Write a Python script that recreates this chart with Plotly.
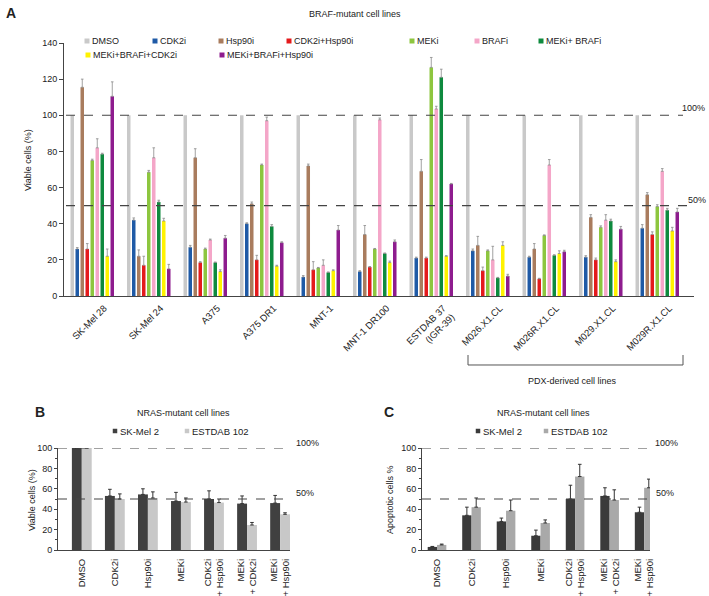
import plotly.graph_objects as go

W, H = 709, 596
FONT = "Liberation Sans, Arial, sans-serif"
TXT = "#222222"

# ---------------- Panel A data ----------------
cell_lines = ["SK-Mel 28", "SK-Mel 24", "A375", "A375 DR1", "MNT-1", "MNT-1 DR100",
              "ESTDAB 37<br>(IGR-39)", "M026.X1.CL", "M026R.X1.CL", "M029.X1.CL", "M029R.X1.CL"]
treatments = ["DMSO", "CDK2i", "Hsp90i", "CDK2i+Hsp90i", "MEKi", "BRAFi",
              "MEKi+ BRAFi", "MEKi+BRAFi+CDK2i", "MEKi+BRAFi+Hsp90i"]
colors_a = ["#c9c9c9", "#1f5aa6", "#a97c5e", "#e41a1c", "#8dc63f", "#f4a6c8",
            "#0e8a3e", "#fff200", "#8e1c8e"]

dmso = [100, 100, 100, 100, 100, 100, 100, 100, 100, 100, 100]
cdk2i = [26, 42, 27, 40, 10.5, 13.5, 21, 25, 21.5, 21.5, 37.5]
cdk2i_err = [0.8, 1.2, 1, 0.5, 0.8, 0.5, 0.5, 1, 0.5, 0.8, 2]
hsp90i = [115.5, 22, 76.5, 51, 72, 34, 69, 28, 26, 43.5, 56]
hsp90i_err = [4.5, 3.5, 5, 1, 1, 5, 6.5, 5, 3, 1.5, 1.2]
cdk2i_hsp = [26, 17, 18.5, 20, 14.5, 16, 21, 14, 9.5, 20, 34]
cdk2i_hsp_err = [3, 5, 0.5, 2.5, 4.5, 0.3, 0.5, 2, 0.3, 1, 1.5]
meki = [75, 68.5, 26, 72.5, 15.5, 26, 126.5, 25, 33.5, 38, 49.5]
meki_err = [0.7, 1, 0.5, 0.5, 0.3, 0.3, 5.5, 0.5, 0.3, 0.8, 1]
brafi = [82, 76.5, 31, 97, 17, 97.5, 103.5, 20, 72.5, 42, 69]
brafi_err = [5, 5.5, 0.5, 2, 3, 1, 1.5, 7.5, 3, 3, 1.5]
meki_brafi = [78.5, 52, 18.5, 38.5, 13, 23.5, 121, 10, 22.5, 41.5, 47.5]
meki_brafi_err = [0.5, 1, 0.3, 1, 0.3, 0.3, 4.5, 0.3, 0.3, 1, 1]
mbc = [22, 41.5, 13.5, 16.5, 14, 18.5, 22, 28, 23.5, 19, 36]
mbc_err = [4, 1.5, 1, 0.5, 0.5, 0.8, 0.3, 2, 1.5, 1, 2]
mbh = [110.5, 15, 32, 29.5, 36.5, 30, 62, 11, 24.5, 37, 46.5]
mbh_err = [8, 2.5, 1.5, 0.5, 2.5, 1, 0.3, 1, 0.8, 1.5, 2]

values_a = [dmso, cdk2i, hsp90i, cdk2i_hsp, meki, brafi, meki_brafi, mbc, mbh]
errors_a = [None, cdk2i_err, hsp90i_err, cdk2i_hsp_err, meki_err, brafi_err,
            meki_brafi_err, mbc_err, mbh_err]

# ---------------- Panels B / C data ----------------
nras_treat = ["DMSO", "CDK2i", "Hsp90i", "MEKi", "CDK2i<br>+ Hsp90i",
              "MEKi<br>+ CDK2i", "MEKi<br>+ Hsp90i"]
nras_lines = ["SK-Mel 2", "ESTDAB 102"]
b_skmel2 = [100, 53, 54.5, 48, 50, 45.5, 46]
b_skmel2_err = [0, 6.5, 5.5, 8.5, 8, 7.5, 7.5]
b_estdab = [100, 50, 51, 47, 46.5, 24.5, 35]
b_estdab_err = [0, 5, 6, 4, 3.5, 2.5, 1.5]
c_skmel2 = [3, 34, 28, 14, 50, 53, 37]
c_skmel2_err = [0.5, 8, 3.3, 5.5, 13.5, 8, 5]
c_estdab = [5, 42, 38.5, 26.5, 72, 49, 61]
c_estdab_err = [0.8, 9, 10.5, 3, 12, 10, 8.5]


def px(x):
    return x / W


def py(y):
    return 1 - y / H


fig = go.Figure()

# Panel A bars
spacing, bw = 0.0885, 0.062
for i, (name, vals, err, col) in enumerate(zip(treatments, values_a, errors_a, colors_a)):
    eb = dict(visible=False)
    if err is not None:
        eb = dict(type="data", symmetric=False, array=err, arrayminus=[0] * len(err),
                  color="#8a8a8a", thickness=0.8, width=1.3)
    fig.add_trace(go.Bar(x=cell_lines, y=vals, name=name, marker_color=col,
                         marker_line_width=0, width=bw, offset=(i - 4) * spacing - bw / 2,
                         error_y=eb, showlegend=False, xaxis="x", yaxis="y"))

# Panel B bars
for vals, err, col, off in [(b_skmel2, b_skmel2_err, "#404040", -0.30),
                            (b_estdab, b_estdab_err, "#c8c8c8", 0.0)]:
    fig.add_trace(go.Bar(x=nras_treat, y=vals, marker_color=col, marker_line_width=0,
                         width=0.30, offset=off, showlegend=False,
                         error_y=dict(type="data", symmetric=False, array=err,
                                      arrayminus=[0] * len(err), color="#333333",
                                      thickness=1, width=1.8),
                         xaxis="x2", yaxis="y2"))

# Panel C bars
for vals, err, col, off in [(c_skmel2, c_skmel2_err, "#3a3a3a", -0.27),
                            (c_estdab, c_estdab_err, "#a9a9a9", 0.0)]:
    fig.add_trace(go.Bar(x=nras_treat, y=vals, marker_color=col, marker_line_width=0,
                         width=0.27, offset=off, showlegend=False,
                         error_y=dict(type="data", symmetric=False, array=err,
                                      arrayminus=[0] * len(err), color="#333333",
                                      thickness=1, width=1.8),
                         xaxis="x3", yaxis="y3"))

axis_common = dict(showgrid=False, zeroline=False, showline=True, linecolor="#444444",
                   linewidth=1, automargin=False,
                   tickfont=dict(family=FONT, size=9, color=TXT))

fig.update_layout(
    width=W, height=H, autosize=False,
    margin=dict(l=0, r=0, t=0, b=0),
    paper_bgcolor="white", plot_bgcolor="white",
    barmode="overlay",
    font=dict(family=FONT, size=9, color=TXT),
    xaxis=dict(axis_common, domain=[px(64), px(694)], range=[-0.5, 10.65],
               type="category", categoryorder="array", categoryarray=cell_lines,
               ticks="", tickangle=-45, ticklabelshift=12, ticklabelstandoff=2,
               anchor="y", tickfont=dict(family=FONT, size=9.5, color=TXT)),
    yaxis=dict(axis_common, domain=[py(296), py(43)], range=[0, 140], dtick=20,
               ticks="outside", ticklen=4, tickcolor="#444444", anchor="x"),
    xaxis2=dict(axis_common, domain=[px(58), px(290)], range=[-0.72, 6.3],
                type="category", categoryorder="array", categoryarray=nras_treat,
                ticks="", tickangle=-90, ticklabelstandoff=4, anchor="y2",
                tickfont=dict(family=FONT, size=9.5, color=TXT)),
    yaxis2=dict(axis_common, domain=[py(550), py(448)], range=[0, 100], dtick=20,
                ticks="outside", ticklen=3, tickcolor="#444444", anchor="x2",
                minor=dict(dtick=10, ticks="outside", ticklen=2, tickcolor="#444444")),
    xaxis3=dict(axis_common, domain=[px(422), px(650)], range=[-0.435, 6.17],
                type="category", categoryorder="array", categoryarray=nras_treat,
                ticks="", tickangle=-90, ticklabelstandoff=4, anchor="y3",
                tickfont=dict(family=FONT, size=9.5, color=TXT)),
    yaxis3=dict(axis_common, domain=[py(550), py(448)], range=[0, 100], dtick=20,
                ticks="outside", ticklen=3, tickcolor="#444444", anchor="x3",
                minor=dict(dtick=10, ticks="outside", ticklen=2, tickcolor="#444444")),
)

shapes = []
ann = []


def text(x, y, s, size=9, xanchor="center", bold=False, angle=0):
    ann.append(dict(x=px(x), y=py(y), xref="paper", yref="paper", text=("<b>%s</b>" % s) if bold else s,
                    showarrow=False, xanchor=xanchor, yanchor="middle", textangle=angle,
                    font=dict(family=FONT, size=size, color=TXT)))


def square(cx, cy, col, s=5):
    shapes.append(dict(type="rect", xref="paper", yref="paper",
                       x0=px(cx - s / 2), x1=px(cx + s / 2), y0=py(cy + s / 2), y1=py(cy - s / 2),
                       fillcolor=col, line=dict(width=0)))


# dashed reference lines
for yref, yv, x0, x1 in [("y", 100, 66, 683), ("y", 50, 66, 689),
                         ("y2", 100, 58, 290), ("y2", 50, 58, 290),
                         ("y3", 100, 422, 650), ("y3", 50, 422, 650)]:
    shapes.append(dict(type="line", xref="paper", yref=yref, x0=px(x0), x1=px(x1), y0=yv, y1=yv,
                       line=dict(color="#444444", width=1.1, dash="dash")))

# percent labels
text(707, 108, "100%", xanchor="right")
text(708, 200, "50%", xanchor="right")
text(294, 443, "100%", xanchor="left")
text(294, 493, "50%", xanchor="left")
text(653, 443, "100%", xanchor="left")
text(654, 493, "50%", xanchor="left")

# panel letters and titles
text(4, 13, "A", size=14, xanchor="left", bold=True)
text(355, 14, "BRAF-mutant cell lines")
text(33, 412, "B", size=14, xanchor="left", bold=True)
text(183, 413, "NRAS-mutant cell lines")
text(382, 412, "C", size=14, xanchor="left", bold=True)
text(543, 413, "NRAS-mutant cell lines")

# axis titles
text(28, 160, "Viable cells (%)", angle=-90)
text(32, 500, "Viable cells (%)", angle=-90)
text(390, 500, "Apoptotic cells %", angle=-90)

# Panel A legend
leg_pos = [(87, 41), (155, 41), (221, 41), (289, 41), (412, 41), (477, 41), (541, 41),
           (88, 55), (222, 55)]
for (cx, cy), name, col in zip(leg_pos, treatments, colors_a):
    square(cx, cy, col)
    text(cx + 3, cy, name, xanchor="left")

# Panels B/C legends
for (cx, cy), name, col in zip([(115, 431), (187, 431)], nras_lines, ["#404040", "#c8c8c8"]):
    square(cx, cy, col, 4.5)
    text(cx + 3, cy, name, size=9.5, xanchor="left")
for (cx, cy), name, col in zip([(478, 431), (546, 431)], nras_lines, ["#3a3a3a", "#a9a9a9"]):
    square(cx, cy, col, 4.5)
    text(cx + 3, cy, name, size=9.5, xanchor="left")

# PDX bracket
shapes.append(dict(type="path", xref="paper", yref="paper",
                   path="M %f,%f L %f,%f L %f,%f L %f,%f" % (px(468), py(355), px(468), py(365),
                                                             px(683), py(365), px(683), py(355)),
                   line=dict(color="#555555", width=1)))
text(572, 381, "PDX-derived cell lines")

fig.update_layout(shapes=shapes, annotations=ann)
fig.write_html("out.html", config={"displayModeBar": False},
               post_script="document.body.style.margin='0';document.body.style.overflow='hidden';")
